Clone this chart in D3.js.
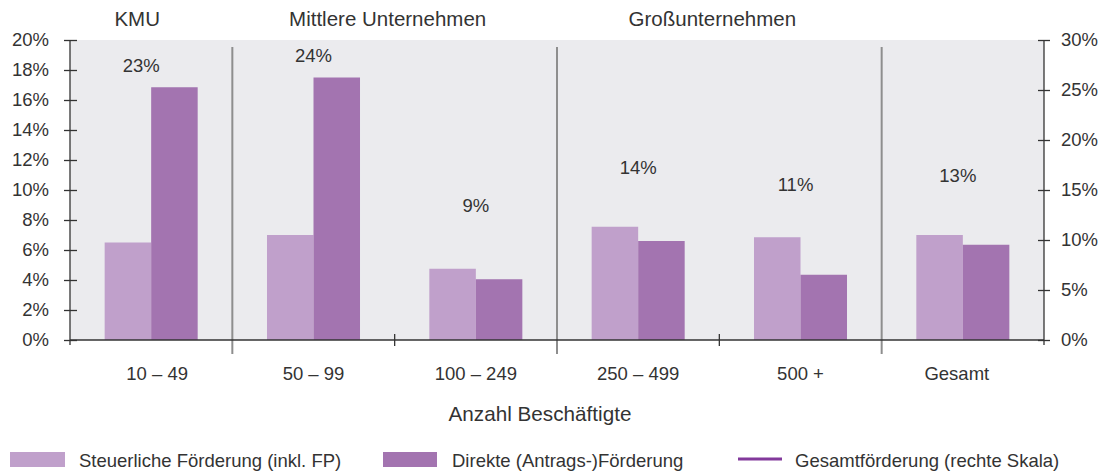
<!DOCTYPE html>
<html>
<head>
<meta charset="utf-8">
<script src="https://cdn.jsdelivr.net/npm/d3@7"></script>
<style>
  html, body { margin: 0; padding: 0; background: #fff; }
  svg { display: block; font-family: "Liberation Sans", Arial, sans-serif; }
</style>
</head>
<body>
<svg id="chart" width="1104" height="472"></svg>
<script>
// ---- data ----
const categories = ["10 – 49", "50 – 99", "100 – 249", "250 – 499", "500 +", "Gesamt"];
const steuerlich = [6.5, 7.0, 4.75, 7.55, 6.85, 7.0];      // left scale, %
const direkt     = [16.85, 17.5, 4.05, 6.6, 4.35, 6.35];   // left scale, %
const gesamtPos  = [23.0, 24.0, 9.0, 12.8, 11.1, 12.0];    // right scale, label anchor (hidden line)
const gesamtText = ["23%", "24%", "9%", "14%", "11%", "13%"];
const groups = [
  { name: "KMU", from: 0, to: 0 },
  { name: "Mittlere Unternehmen", from: 1, to: 2 },
  { name: "Großunternehmen", from: 3, to: 4 }
];
const leftTicks = [0, 2, 4, 6, 8, 10, 12, 14, 16, 18, 20];
const rightTicks = [0, 5, 10, 15, 20, 25, 30];
const separatorsAfter = [0, 2, 4];
const seriesNames = ["Steuerliche Förderung (inkl. FP)", "Direkte (Antrags-)Förderung", "Gesamtförderung (rechte Skala)"];
const colors = { light: "#c0a0cb", dark: "#a374b0", line: "#82399b", bg: "#ebebee", text: "#333333", axis: "#333333", sep: "#8e8e8e" };

// ---- layout ----
const svg = d3.select("#chart");
const L = 70, R = 1044, T = 40, B = 340;

const x = d3.scaleBand().domain(categories).range([L, R]).paddingInner(0).paddingOuter(0);
const bw = x.bandwidth();
const pair = bw * 0.573;
const x1 = d3.scaleBand().domain(["s", "d"]).range([bw / 2 - pair / 2, bw / 2 + pair / 2]).padding(0);
const yL = d3.scaleLinear().domain([0, 20]).range([B, T]);
const yR = d3.scaleLinear().domain([0, 30]).range([B, T]);

// background
svg.append("rect").attr("x", L).attr("y", T).attr("width", R - L).attr("height", B - T).attr("fill", colors.bg);

// bars
const g = svg.append("g");
categories.forEach((c, i) => {
  g.append("rect")
    .attr("x", x(c) + x1("s")).attr("y", yL(steuerlich[i]))
    .attr("width", x1.bandwidth()).attr("height", yL(0) - yL(steuerlich[i]))
    .attr("fill", colors.light);
  g.append("rect")
    .attr("x", x(c) + x1("d")).attr("y", yL(direkt[i]))
    .attr("width", x1.bandwidth()).attr("height", yL(0) - yL(direkt[i]))
    .attr("fill", colors.dark);
});

// total labels
categories.forEach((c, i) => {
  svg.append("text")
    .attr("x", x(c) + bw / 2 - (i === 0 ? 10 : (i >= 4 ? 5 : 0)))
    .attr("y", yR(gesamtPos[i]) - 38)
    .attr("text-anchor", "middle")
    .attr("font-size", 18.5)
    .attr("fill", colors.text)
    .text(gesamtText[i]);
});

// separators
separatorsAfter.forEach(i => {
  const xs = x(categories[i]) + bw;
  svg.append("line")
    .attr("x1", xs).attr("x2", xs).attr("y1", T + 7).attr("y2", B + 14)
    .attr("stroke", colors.sep).attr("stroke-width", 2);
});

// left axis
const axL = d3.axisLeft(yL).tickValues(leftTicks).tickFormat(d => d + "%").tickSizeInner(6).tickSizeOuter(0).tickPadding(15);
const gL = svg.append("g").attr("transform", `translate(${L},0)`).call(axL);
gL.select(".domain").attr("d", `M0,${T}V${B + 5}`).attr("stroke", colors.axis).attr("stroke-width", 1.3);
gL.selectAll(".tick line").attr("x1", -6).attr("x2", 7).attr("stroke", colors.axis).attr("stroke-width", 1.3);
gL.selectAll(".tick text").attr("font-size", 18.5).attr("fill", colors.text).attr("font-family", "Liberation Sans, Arial, sans-serif").attr("x", -21);

// right axis
const axR = d3.axisRight(yR).tickValues(rightTicks).tickFormat(d => d + "%").tickSizeInner(6).tickSizeOuter(0).tickPadding(11);
const gR = svg.append("g").attr("transform", `translate(${R},0)`).call(axR);
gR.select(".domain").attr("d", `M0,${T}V${B + 5}`).attr("stroke", colors.axis).attr("stroke-width", 1.3);
gR.selectAll(".tick line").attr("x1", -6).attr("x2", 6).attr("stroke", colors.axis).attr("stroke-width", 1.3);
gR.selectAll(".tick text").attr("font-size", 18.5).attr("fill", colors.text).attr("font-family", "Liberation Sans, Arial, sans-serif").attr("x", 17);

// bottom axis
svg.append("line").attr("x1", L).attr("x2", R).attr("y1", B).attr("y2", B).attr("stroke", colors.axis).attr("stroke-width", 1.3);
const boundaries = d3.range(categories.length + 1).filter(k => !separatorsAfter.includes(k - 1) && k > 0 && k < categories.length);
boundaries.forEach(k => {
  const xb = L + k * bw;
  svg.append("line").attr("x1", xb).attr("x2", xb).attr("y1", B - 6).attr("y2", B + 6).attr("stroke", colors.axis).attr("stroke-width", 1.3);
});
categories.forEach((c, i) => {
  svg.append("text")
    .attr("x", x(c) + bw / 2 + (i === 0 ? 6 : (i === 5 ? -6 : 0))).attr("y", 380)
    .attr("text-anchor", "middle").attr("font-size", 18.5).attr("fill", colors.text)
    .text(c);
});

// axis title
svg.append("text").attr("x", 540).attr("y", 421).attr("text-anchor", "middle")
  .attr("font-size", 20.7).attr("fill", colors.text).text("Anzahl Beschäftigte");

// group headers
groups.forEach((gr, i) => {
  const cx = (x(categories[gr.from]) + x(categories[gr.to]) + bw) / 2;
  svg.append("text").attr("x", cx - (i === 0 ? 14 : 7)).attr("y", 26).attr("text-anchor", "middle")
    .attr("font-size", 20.5).attr("fill", colors.text).text(gr.name);
});

// legend
const lg = svg.append("g");
lg.append("rect").attr("x", 10).attr("y", 452).attr("width", 55).attr("height", 15).attr("fill", colors.light);
lg.append("text").attr("x", 79).attr("y", 467).attr("font-size", 18.5).attr("fill", colors.text).text(seriesNames[0]);
lg.append("rect").attr("x", 383).attr("y", 452).attr("width", 54).attr("height", 15).attr("fill", colors.dark);
lg.append("text").attr("x", 452).attr("y", 467).attr("font-size", 18.5).attr("fill", colors.text).text(seriesNames[1]);
lg.append("line").attr("x1", 738).attr("x2", 782).attr("y1", 459).attr("y2", 459).attr("stroke", colors.line).attr("stroke-width", 3);
lg.append("text").attr("x", 795).attr("y", 467).attr("font-size", 18.5).attr("fill", colors.text).text(seriesNames[2]);
</script>
</body>
</html>
